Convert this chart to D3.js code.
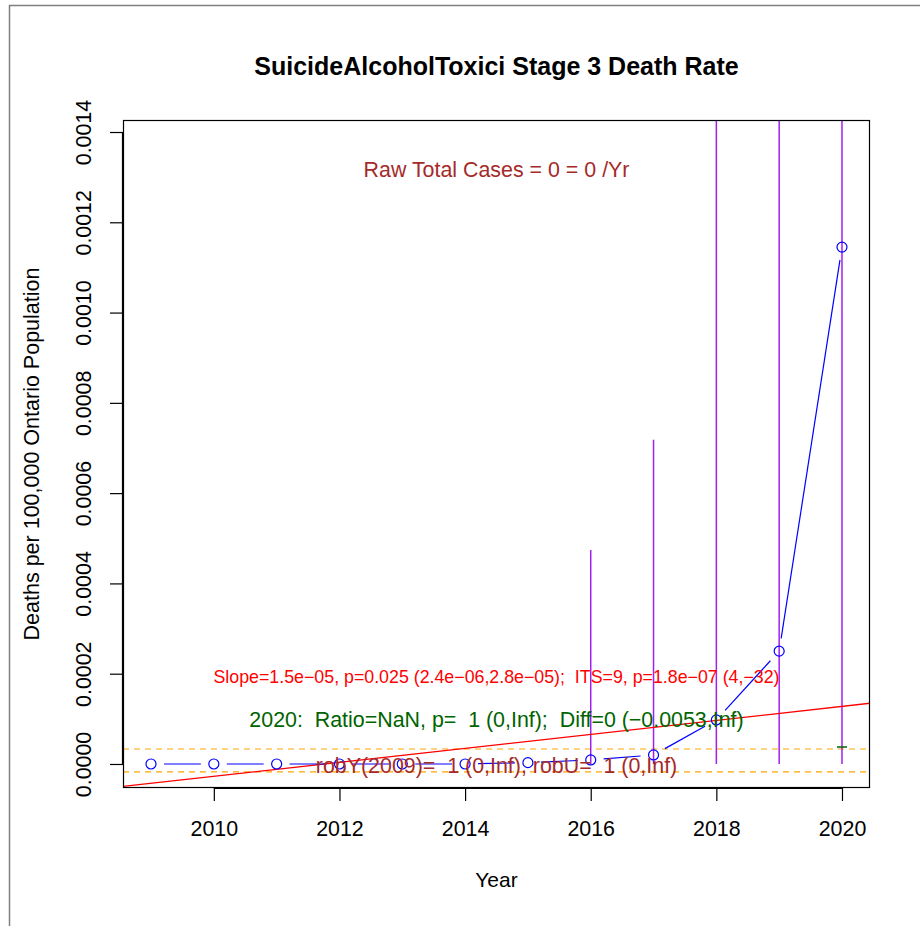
<!DOCTYPE html>
<html>
<head>
<meta charset="utf-8">
<script src="https://cdn.jsdelivr.net/npm/d3@7"></script>
<style>
html,body{margin:0;padding:0;background:#fff;}
svg{display:block;font-family:"Liberation Sans",Arial,sans-serif;}
text{white-space:pre;}
</style>
</head>
<body>
<svg id="chart" width="920" height="926"></svg>
<script>
// ---- data ----
const years = [2009,2010,2011,2012,2013,2014,2015,2016,2017,2018,2019,2020];
const rates = [0,0,0,0,0,0,0.000003,0.000009,0.00002,0.0000975,0.00025,0.001145];
const ciYears = [2016,2017,2018,2019,2020];
const ciLower = [0,0,0,0,0];
const ciUpper = [0.000474,0.000718,0.004,0.004,0.004];
const regIntercept2009 = -0.0000429;   // fitted value at 2009
const regSlope = 0.0000155;            // per year
const bandLevels = [0.0000332,-0.0000177];
const markYear = 2020, markValue = 0.0000376;
const xTicks = [2010,2012,2014,2016,2018,2020];
const yTicks = [0,0.0002,0.0004,0.0006,0.0008,0.0010,0.0012,0.0014];
const yTickLabels = ["0.0000","0.0002","0.0004","0.0006","0.0008","0.0010","0.0012","0.0014"];
const titleText = "SuicideAlcoholToxici Stage 3 Death Rate";
const rawText = "Raw Total Cases = 0 = 0 /Yr";
const slopeText = "Slope=1.5e\u221205, p=0.025 (2.4e\u221206,2.8e\u221205);  ITS=9, p=1.8e\u221207 (4,\u221232)";
const ratioText = "2020:  Ratio=NaN, p=  1 (0,Inf);  Diff=0 (\u22120.0053,Inf)";
const robText = "robY(2009)=  1 (0,Inf), robU=  1 (0,Inf)";
const xLabel = "Year";
const yLabel = "Deaths per 100,000 Ontario Population";

// ---- layout ----
const L = 123, R = 870, T = 120, B = 788;
const svg = d3.select("#chart");
const x = d3.scaleLinear().domain([2008.554, 2020.446]).range([L, R]);
const y = d3.scaleLinear().domain([-0.0000532, 0.0014266]).range([B, T]);
const FS = 21.4;

// outer frame (partial, as in reference)
svg.append("path").attr("d", `M9.5,926 L9.5,5.5 L920,5.5`).attr("fill","none")
  .attr("stroke","#7f7f7f").attr("stroke-width",1.5);

svg.append("defs").append("clipPath").attr("id","clip")
  .append("rect").attr("x",L).attr("y",T).attr("width",R-L).attr("height",B-T);
const g = svg.append("g").attr("clip-path","url(#clip)");

// orange dashed band lines
g.selectAll(".band").data(bandLevels).enter().append("line")
  .attr("x1",L).attr("x2",R).attr("y1",d=>y(d)).attr("y2",d=>y(d))
  .attr("stroke","#ffa500").attr("stroke-width",1.2).attr("stroke-dasharray","6,5");

// purple CI bars
g.selectAll(".ci").data(ciYears).enter().append("line")
  .attr("x1",d=>x(d)).attr("x2",d=>x(d))
  .attr("y1",(d,i)=>y(ciLower[i])).attr("y2",(d,i)=>y(ciUpper[i]))
  .attr("stroke","#a020f0").attr("stroke-width",1.5);

// regression line
const xd = x.domain();
g.append("line")
  .attr("x1",x(xd[0])).attr("y1",y(regIntercept2009+regSlope*(xd[0]-2009)))
  .attr("x2",x(xd[1])).attr("y2",y(regIntercept2009+regSlope*(xd[1]-2009)))
  .attr("stroke","#ff0000").attr("stroke-width",1.3);

// dark green mark
g.append("line").attr("x1",x(markYear)-5).attr("x2",x(markYear)+5)
  .attr("y1",y(markValue)).attr("y2",y(markValue))
  .attr("stroke","#006400").attr("stroke-width",1.5);

// type "b" line: segments with gaps
const pts = years.map((yr,i)=>[x(yr),y(rates[i])]);
const gap = 13;
for (let i=0;i<pts.length-1;i++){
  const [x0,y0]=pts[i],[x1,y1]=pts[i+1];
  const dx=x1-x0, dy=y1-y0, len=Math.hypot(dx,dy);
  if (len>2*gap){
    const ux=dx/len, uy=dy/len;
    g.append("line").attr("x1",x0+ux*gap).attr("y1",y0+uy*gap)
      .attr("x2",x1-ux*gap).attr("y2",y1-uy*gap)
      .attr("stroke","#0000ff").attr("stroke-width",1.2);
  }
}
g.selectAll(".pt").data(pts).enter().append("circle")
  .attr("cx",d=>d[0]).attr("cy",d=>d[1]).attr("r",5)
  .attr("fill","none").attr("stroke","#0000ff").attr("stroke-width",1.2);

// texts inside plot
const cx = (L+R)/2;
svg.append("text").attr("x",cx).attr("y",177).attr("text-anchor","middle")
  .attr("font-size",FS).attr("fill","#a52a2a").text(rawText);
svg.append("text").attr("x",cx).attr("y",683).attr("text-anchor","middle")
  .attr("font-size",17.8).attr("fill","#ff0000").text(slopeText);
svg.append("text").attr("x",cx).attr("y",727).attr("text-anchor","middle")
  .attr("font-size",FS).attr("fill","#006400").text(ratioText);
svg.append("text").attr("x",cx).attr("y",773).attr("text-anchor","middle")
  .attr("font-size",FS).attr("fill","#a52a2a").text(robText);

// box
svg.append("rect").attr("x",L+0.5).attr("y",T+0.5).attr("width",R-L-1).attr("height",B-T-1)
  .attr("fill","none").attr("stroke","#000").attr("stroke-width",1.2);

// x axis
const xAxis = d3.axisBottom(x).tickValues(xTicks).tickFormat(d3.format("d")).tickSize(13).tickPadding(20);
const gx = svg.append("g").attr("transform",`translate(0,${B})`).call(xAxis);
gx.select(".domain").attr("d",`M${x(xTicks[0])},0.5H${x(xTicks[xTicks.length-1])}`).attr("stroke-width",1.2);
gx.selectAll(".tick line").attr("stroke-width",1.2);
gx.selectAll("text").attr("font-size",FS).attr("font-family","Liberation Sans, Arial, sans-serif").attr("fill","#000");

// y axis
const yAxis = d3.axisLeft(y).tickValues(yTicks).tickFormat((d,i)=>yTickLabels[i]).tickSize(13);
const gy = svg.append("g").attr("transform",`translate(${L},0)`).call(yAxis);
gy.select(".domain").attr("d",`M-0.5,${y(yTicks[0])}V${y(yTicks[yTicks.length-1])}`).attr("stroke-width",1.2);
gy.selectAll(".tick line").attr("stroke-width",1.2);
gy.selectAll("text").attr("font-size",FS).attr("font-family","Liberation Sans, Arial, sans-serif").attr("fill","#000")
  .attr("x",null).attr("dy",null)
  .attr("text-anchor","middle")
  .attr("transform","translate(-32,0) rotate(-90)");

// titles
svg.append("text").attr("x",cx).attr("y",75).attr("text-anchor","middle")
  .attr("font-size",25).attr("font-weight","bold").text(titleText);
svg.append("text").attr("x",cx).attr("y",887).attr("text-anchor","middle")
  .attr("font-size",21).text(xLabel);
svg.append("text").attr("transform",`translate(39,${(T+B)/2}) rotate(-90)`)
  .attr("text-anchor","middle").attr("font-size",21.5).text(yLabel);
</script>
</body>
</html>
